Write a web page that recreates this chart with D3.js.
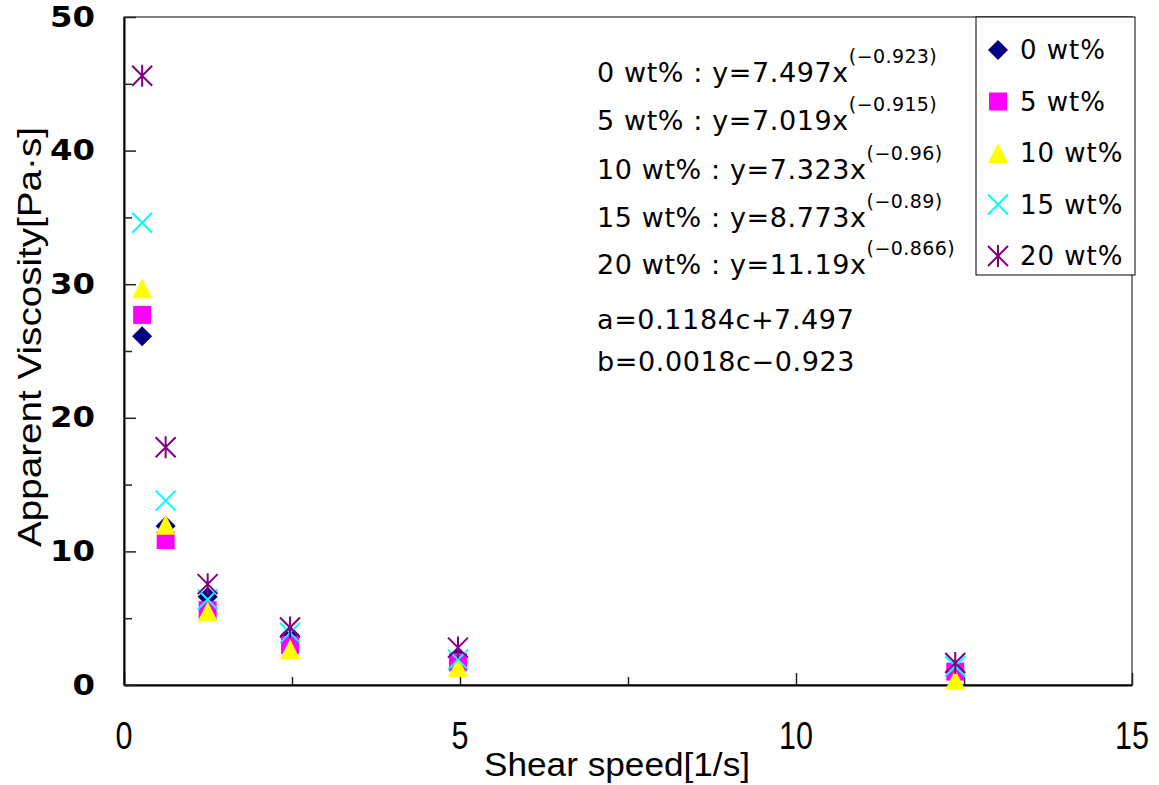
<!DOCTYPE html>
<html>
<head>
<meta charset="utf-8">
<script src="https://cdn.jsdelivr.net/npm/d3@7"></script>
<style>
  html, body { margin: 0; padding: 0; background: #fff; }
  svg { display: block; }
</style>
</head>
<body>
<svg id="chart" width="1159" height="785"></svg>
<script>
// Shear speed [1/s] at which viscosity was measured
const shearRates = [0.27, 0.62, 1.245, 2.47, 4.97, 12.37];

// Apparent viscosity [Pa·s] for each additive content
const visc0  = [26.1, 11.9, 6.6, 3.7, 2.1, 1.0];
const visc5  = [27.7, 10.85, 5.6, 3.0, 1.7, 1.0];
const visc10 = [29.7, 12.0, 5.5, 2.7, 1.35, 0.4];
const visc15 = [34.6, 13.8, 6.4, 3.9, 1.9, 1.4];
const visc20 = [45.6, 17.8, 7.55, 4.3, 2.8, 1.65];

const seriesNames = ["0 wt%", "5 wt%", "10 wt%", "15 wt%", "20 wt%"];
const seriesColors = ["#000080", "#FF00FF", "#FFFF00", "#00FFFF", "#800080"];
const seriesShapes = ["diamond", "square", "triangle", "cross", "star"];
const seriesValues = [visc0, visc5, visc10, visc15, visc20];

const xTicks = [0, 2.5, 5, 7.5, 10, 12.5, 15];
const xTickLabels = [0, 5, 10, 15];
const yTicks = [0, 5, 10, 15, 20, 25, 30, 35, 40, 45, 50];
const yTickLabels = [0, 10, 20, 30, 40, 50];

// Fitted power laws y = a·x^b shown as annotation
const fitLabels = ["0 wt% : y=7.497x", "5 wt% : y=7.019x", "10 wt% : y=7.323x", "15 wt% : y=8.773x", "20 wt% : y=11.19x"];
const fitExponents = ["(\u22120.923)", "(\u22120.915)", "(\u22120.96)", "(\u22120.89)", "(\u22120.866)"];
const coefLines = ["a=0.1184c+7.497", "b=0.0018c\u22120.923"];

const svg = d3.select("#chart");
const plotLeft = 124, plotRight = 1132, plotTop = 17, plotBottom = 685;

const x = d3.scaleLinear().domain([0, 15]).range([plotLeft, plotRight]);
const y = d3.scaleLinear().domain([0, 50]).range([plotBottom, plotTop]);

// plot frame
svg.append("rect")
  .attr("x", plotLeft).attr("y", plotTop)
  .attr("width", plotRight - plotLeft).attr("height", plotBottom - plotTop)
  .attr("fill", "none").attr("stroke", "#000").attr("stroke-width", 1);

// axes with inward ticks
const xAxis = svg.append("g").attr("transform", `translate(0,${plotBottom})`)
  .call(d3.axisBottom(x).tickValues(xTicks).tickFormat("").tickSizeOuter(0)
    .tickSizeInner(0));
xAxis.select(".domain").attr("stroke-width", 2);
xAxis.selectAll(".tick line")
  .attr("y2", d => (d % 5 === 0 ? -12 : -8))
  .attr("stroke", "#222").attr("stroke-width", 1.5);

const yAxis = svg.append("g").attr("transform", `translate(${plotLeft},0)`)
  .call(d3.axisLeft(y).tickValues(yTicks).tickFormat("").tickSizeOuter(0)
    .tickSizeInner(0));
yAxis.select(".domain").attr("stroke-width", 2);
yAxis.selectAll(".tick line")
  .attr("x2", d => (d % 10 === 0 ? 12 : 8))
  .attr("stroke", "#222").attr("stroke-width", 1.5);

// tick labels
svg.append("g").selectAll("text").data(yTickLabels).join("text")
  .attr("x", 95).attr("y", d => y(d))
  .attr("text-anchor", "end").attr("dominant-baseline", "central")
  .attr("font-family", "DejaVu Sans").attr("font-weight", "bold")
  .attr("font-size", 28)
  .attr("textLength", d => String(d).length * 22.5)
  .attr("lengthAdjust", "spacingAndGlyphs")
  .text(d => d);

svg.append("g").selectAll("text").data(xTickLabels).join("text")
  .attr("x", d => x(d)).attr("y", 736)
  .attr("text-anchor", "middle").attr("dominant-baseline", "central")
  .attr("font-family", "Liberation Sans").attr("font-size", 38)
  .attr("textLength", d => String(d).length * 17)
  .attr("lengthAdjust", "spacingAndGlyphs")
  .text(d => d);

// axis titles
svg.append("text")
  .attr("x", 617).attr("y", 764)
  .attr("text-anchor", "middle").attr("dominant-baseline", "central")
  .attr("font-family", "Liberation Sans").attr("font-size", 34)
  .attr("textLength", 266).attr("lengthAdjust", "spacingAndGlyphs")
  .text("Shear speed[1/s]");

svg.append("text")
  .attr("transform", "translate(29,337) rotate(-90)")
  .attr("text-anchor", "middle").attr("dominant-baseline", "central")
  .attr("font-family", "Liberation Sans").attr("font-size", 34)
  .attr("textLength", 420).attr("lengthAdjust", "spacingAndGlyphs")
  .text("Apparent Viscosity[Pa\u00b7s]");

// marker drawing
function drawMarker(g, shape, color) {
  const r = 10;
  if (shape === "diamond") {
    g.append("path").attr("d", `M0,${-r}L${r},0L0,${r}L${-r},0Z`).attr("fill", color);
  } else if (shape === "square") {
    g.append("rect").attr("x", -9).attr("y", -9).attr("width", 18).attr("height", 18).attr("fill", color);
  } else if (shape === "triangle") {
    g.append("path").attr("d", `M0,${-r}L${r},${r}L${-r},${r}Z`).attr("fill", color);
  } else if (shape === "cross") {
    g.append("path").attr("d", `M${-r},${-r}L${r},${r}M${-r},${r}L${r},${-r}`)
      .attr("stroke", color).attr("stroke-width", 2).attr("fill", "none");
  } else if (shape === "star") {
    g.append("path").attr("d", `M${-r},${-r}L${r},${r}M${-r},${r}L${r},${-r}M0,${-r - 1}L0,${r + 1}`)
      .attr("stroke", color).attr("stroke-width", 2).attr("fill", "none");
  }
}

// data points
seriesValues.forEach((vals, i) => {
  const g = svg.append("g").attr("class", "series");
  shearRates.forEach((sr, j) => {
    const m = g.append("g").attr("transform", `translate(${x(sr)},${y(vals[j])})`);
    drawMarker(m, seriesShapes[i], seriesColors[i]);
  });
});

// annotation of fitted equations
const ann = svg.append("g").attr("font-family", "DejaVu Sans").attr("fill", "#000");
const fitRowY = [72, 120, 169, 217, 264];
const coefRowY = [319, 361];
fitLabels.forEach((t, i) => {
  const txt = ann.append("text")
    .attr("x", 597).attr("y", fitRowY[i])
    .attr("dominant-baseline", "central")
    .attr("font-size", 27).attr("letter-spacing", 0.6);
  txt.append("tspan").text(t);
  txt.append("tspan").attr("dy", -16).attr("font-size", 19).attr("letter-spacing", 0.4).text(fitExponents[i]);
});
coefLines.forEach((t, i) => {
  ann.append("text")
    .attr("x", 597).attr("y", coefRowY[i])
    .attr("dominant-baseline", "central")
    .attr("font-size", 27).attr("letter-spacing", 0.6)
    .text(t);
});

// legend
const legend = svg.append("g");
legend.append("rect")
  .attr("x", 976).attr("y", 17).attr("width", 159).attr("height", 258)
  .attr("fill", "#fff").attr("stroke", "#000").attr("stroke-width", 1);
seriesNames.forEach((name, i) => {
  const cy = 50 + i * 51.5;
  const m = legend.append("g").attr("transform", `translate(998,${cy})`);
  drawMarker(m, seriesShapes[i], seriesColors[i]);
  legend.append("text")
    .attr("x", 1020).attr("y", cy)
    .attr("dominant-baseline", "central")
    .attr("font-family", "DejaVu Sans").attr("font-size", 26)
    .attr("letter-spacing", 1)
    .text(name);
});
</script>
</body>
</html>
